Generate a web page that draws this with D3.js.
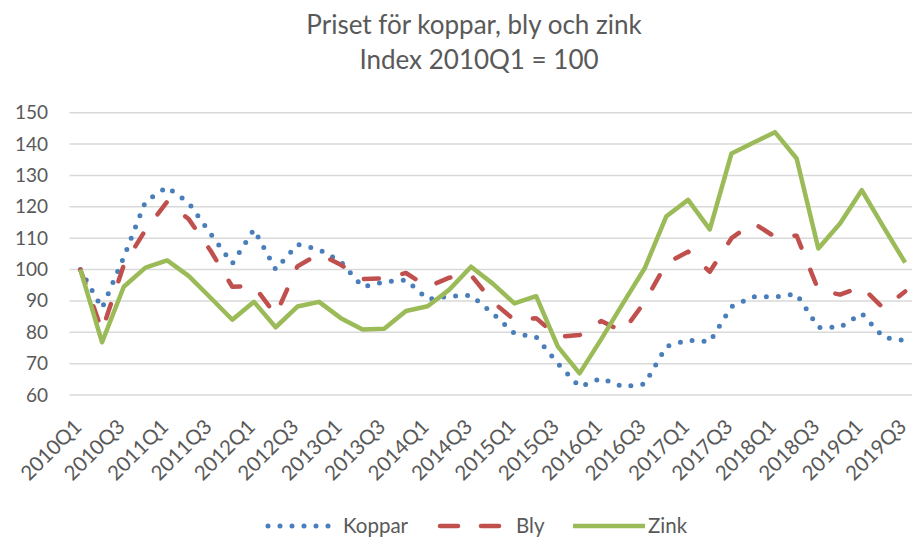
<!DOCTYPE html>
<html>
<head>
<meta charset="utf-8">
<script src="https://cdn.jsdelivr.net/npm/d3@7"></script>
<style>
  body { margin: 0; background: #fff; }
  text { font-family: Lato, "Liberation Sans", sans-serif; fill: #595959; }
</style>
</head>
<body>
<script>
// quarters 2010Q1 .. 2019Q3
const quarters = [
  '2010Q1','2010Q2','2010Q3','2010Q4','2011Q1','2011Q2','2011Q3','2011Q4',
  '2012Q1','2012Q2','2012Q3','2012Q4','2013Q1','2013Q2','2013Q3','2013Q4',
  '2014Q1','2014Q2','2014Q3','2014Q4','2015Q1','2015Q2','2015Q3','2015Q4',
  '2016Q1','2016Q2','2016Q3','2016Q4','2017Q1','2017Q2','2017Q3','2017Q4',
  '2018Q1','2018Q2','2018Q3','2018Q4','2019Q1','2019Q2','2019Q3'
];
// every second quarter gets a label
const tickLabels = quarters.filter((q, i) => i % 2 === 0);
const yTicks = [60, 70, 80, 90, 100, 110, 120, 130, 140, 150];

const koppar = [100, 87.7, 103.9, 121.7, 126.3, 121.2, 111.4, 101.9, 112.8, 100, 108, 106.4,
  102.5, 94.5, 96, 96.7, 90.5, 91.5, 91.8, 86, 79.6, 78.5, 70, 62.6, 65.3, 62.6, 63.5,
  75.5, 77.5, 77, 88.2, 91.3, 91.3, 92.2, 81.5, 81.6, 86, 78.4, 77.3];
const bly = [100, 80.5, 101.4, 112.6, 121.6, 116, 106, 94.5, 94.8, 85.5, 101, 105,
  101.5, 97, 97.2, 98.9, 94.5, 97.4, 98.2, 89.7, 83.9, 84.5, 78.6, 79.1, 83.6, 80.2, 89.7,
  102, 105.7, 99.3, 110, 114.9, 110.4, 110.8, 93.5, 92, 94.5, 87.6, 93];
const zink = [100, 76.8, 94.5, 100.6, 102.9, 97.9, 91, 84, 89.7, 81.6, 88.2, 89.7,
  84.5, 80.9, 81.1, 86.8, 88.3, 93.6, 100.9, 95.5, 89.2, 91.5, 75.4, 66.9, 77.8, 89.2, 100.4,
  117, 122.2, 112.8, 137, 140.4, 143.8, 135.4, 106.7, 114.7, 125.3, 113.6, 102.2];

const W = 912, H = 538;
const svg = d3.select('body').append('svg')
  .attr('width', W).attr('height', H);

const x = d3.scalePoint().domain(quarters).range([69.5, 916]).padding(0.5);
const y = d3.scaleLinear().domain([60, 150]).range([395, 112.7]);

// title
svg.append('text').attr('x', 474).attr('y', 34).attr('text-anchor', 'middle')
  .style('font-size', '26px').text('Priset för koppar, bly och zink');
svg.append('text').attr('x', 479).attr('y', 69).attr('text-anchor', 'middle')
  .style('font-size', '26px').text('Index 2010Q1 = 100');

// gridlines
svg.append('g').selectAll('line').data(yTicks).join('line')
  .attr('x1', 69.5).attr('x2', 916)
  .attr('y1', d => y(d)).attr('y2', d => y(d))
  .attr('stroke', '#d9d9d9').attr('stroke-width', 1.5);

// y axis labels
const yAxis = d3.axisLeft(y).tickValues(yTicks).tickSize(0).tickPadding(0);
svg.append('g').attr('transform', 'translate(48,0)').call(yAxis)
  .call(g => g.select('.domain').remove())
  .selectAll('text').style('font-size', '19px').attr('fill', '#595959')
  .style('font-family', 'Lato, "Liberation Sans", sans-serif');

// x axis labels
const xAxis = d3.axisBottom(x).tickValues(tickLabels).tickSize(0).tickPadding(0);
svg.append('g').attr('transform', 'translate(0,402)').call(xAxis)
  .call(g => g.select('.domain').remove())
  .selectAll('text')
  .style('font-size', '20.5px').attr('fill', '#666')
  .style('font-family', 'Lato, "Liberation Sans", sans-serif')
  .attr('text-anchor', 'end')
  .attr('dy', '0')
  .attr('transform', 'translate(2,26) rotate(-45)');

const series = [
  { name: 'Koppar', values: koppar, color: '#4a7ebb', width: 5, dash: '0 12', cap: 'round' },
  { name: 'Bly', values: bly, color: '#c0504d', width: 4.5, dash: '15 24', cap: 'round' },
  { name: 'Zink', values: zink, color: '#9bbb59', width: 4.5, dash: null, cap: 'butt' }
];

const line = d3.line().x((d, i) => x(quarters[i])).y(d => y(d));

series.forEach(s => {
  svg.append('path').datum(s.values)
    .attr('d', line)
    .attr('fill', 'none')
    .attr('stroke', s.color)
    .attr('stroke-width', s.width)
    .attr('stroke-linecap', s.cap)
    .attr('stroke-linejoin', 'round')
    .attr('stroke-dasharray', s.dash);
});

// legend
const legendItems = [
  { s: series[0], x1: 268, x2: 331, tx: 343 },
  { s: series[1], x1: 440, x2: 506, tx: 516 },
  { s: series[2], x1: 573, x2: 645, tx: 648 }
];
const lg = svg.append('g');
legendItems.forEach(it => {
  lg.append('line')
    .attr('x1', it.x1).attr('x2', it.x2).attr('y1', 526).attr('y2', 526)
    .attr('stroke', it.s.color).attr('stroke-width', it.s.width)
    .attr('stroke-linecap', it.s.cap)
    .attr('stroke-dasharray', it.s.name === 'Bly' ? '18 23' : it.s.dash);
  lg.append('text').attr('x', it.tx).attr('y', 533)
    .style('font-size', '20.5px').text(it.s.name);
});
</script>
</body>
</html>
